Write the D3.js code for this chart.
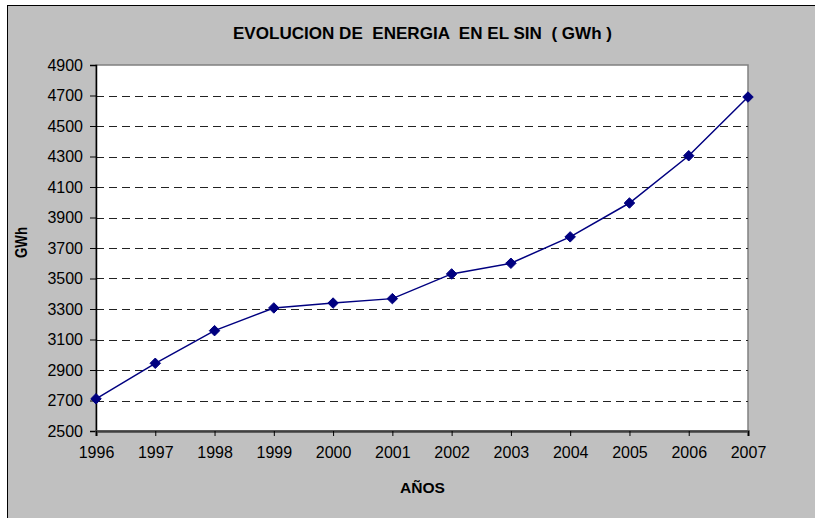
<!DOCTYPE html>
<html>
<head>
<meta charset="utf-8">
<script src="https://cdn.jsdelivr.net/npm/d3@7"></script>
<style>
  body { margin: 0; background: #fff; }
  svg { display: block; font-family: "Liberation Sans", Arial, sans-serif; }
</style>
</head>
<body>
<div id="chart"></div>
<script>
const years = [1996, 1997, 1998, 1999, 2000, 2001, 2002, 2003, 2004, 2005, 2006, 2007];
const energia = [2711, 2944, 3158, 3307, 3339, 3368, 3530, 3600, 3773, 3995, 4305, 4690];
const yTicks = [2500, 2700, 2900, 3100, 3300, 3500, 3700, 3900, 4100, 4300, 4500, 4700, 4900];

const w = 815;
const h = 518;
const margin = {left: 96, top: 65, right: 748, bottom: 431};

const svg = d3.select('#chart').append("svg")
              .attr("width", w)
              .attr("height", h);

// gray chart area with frame on left/top
svg.append("rect")
   .attr("x", 7.5).attr("y", 5.5)
   .attr("width", w + 10).attr("height", h + 10)
   .style("fill", "#c0c0c0")
   .style("stroke", "#000")
   .style("stroke-width", 1);

svg.append("rect")
   .attr("x", margin.left).attr("y", margin.top)
   .attr("width", margin.right - margin.left)
   .attr("height", margin.bottom - margin.top)
   .style("fill", "#fff")
   .style("stroke", "#808080")
   .style("stroke-width", 1.5);

const x = d3.scalePoint()
            .domain(years)
            .range([margin.left, margin.right]);

const y = d3.scaleLinear()
            .domain([2500, 4900])
            .range([margin.bottom, margin.top]);

// dashed grid lines
svg.selectAll("line.grid")
   .data(yTicks.slice(1, -1))
   .enter()
   .append("line")
   .attr("class", "grid")
   .attr("x1", margin.left).attr("x2", margin.right)
   .attr("y1", d => Math.round(y(d)) + 0.5)
   .attr("y2", d => Math.round(y(d)) + 0.5)
   .style("stroke", "#222")
   .style("stroke-dasharray", "8,5");

const yAxis = svg.append("g")
   .attr("transform", `translate(${margin.left},0)`)
   .call(d3.axisLeft(y).tickValues(yTicks).tickSize(6).tickPadding(7).tickFormat(d3.format("d")));

const xAxis = svg.append("g")
   .attr("transform", `translate(0,${margin.bottom})`)
   .call(d3.axisBottom(x).tickSize(5).tickPadding(11));

[yAxis, xAxis].forEach(g => {
    g.select(".domain").style("stroke", "#000").style("stroke-width", 1.5);
    g.selectAll(".tick line").style("stroke", "#000");
    g.selectAll("text")
     .style("font-family", "'Liberation Sans', Arial, sans-serif")
     .style("font-size", "16px")
     .style("fill", "#000");
});
xAxis.select(".domain").style("stroke", "#404040").style("stroke-width", 2.5);

const line = d3.line()
               .x((d, i) => x(years[i]))
               .y(d => y(d));

svg.append("path")
   .datum(energia)
   .attr("d", line)
   .style("fill", "none")
   .style("stroke", "#000080")
   .style("stroke-width", 1.5);

svg.selectAll("path.marker")
   .data(energia)
   .enter()
   .append("path")
   .attr("class", "marker")
   .attr("d", d3.symbol(d3.symbolDiamond2, 70))
   .attr("transform", (d, i) => `translate(${x(years[i])},${y(d)})`)
   .style("fill", "#000080")
   .style("stroke", "#000080");

svg.append("text")
   .attr("x", 233).attr("y", 39.3)
   .attr("textLength", 379)
   .attr("lengthAdjust", "spacingAndGlyphs")
   .style("white-space", "pre")
   .style("font-size", "16.5px")
   .style("font-weight", "bold")
   .text("EVOLUCION DE  ENERGIA  EN EL SIN  ( GWh )");

svg.append("text")
   .attr("transform", "translate(27,258) rotate(-90)")
   .attr("textLength", 31)
   .attr("lengthAdjust", "spacingAndGlyphs")
   .style("font-size", "16px")
   .style("font-weight", "bold")
   .text("GWh");

svg.append("text")
   .attr("x", 400).attr("y", 492.7)
   .attr("textLength", 45)
   .attr("lengthAdjust", "spacingAndGlyphs")
   .style("font-size", "15.5px")
   .style("font-weight", "bold")
   .text("AÑOS");
</script>
</body>
</html>
